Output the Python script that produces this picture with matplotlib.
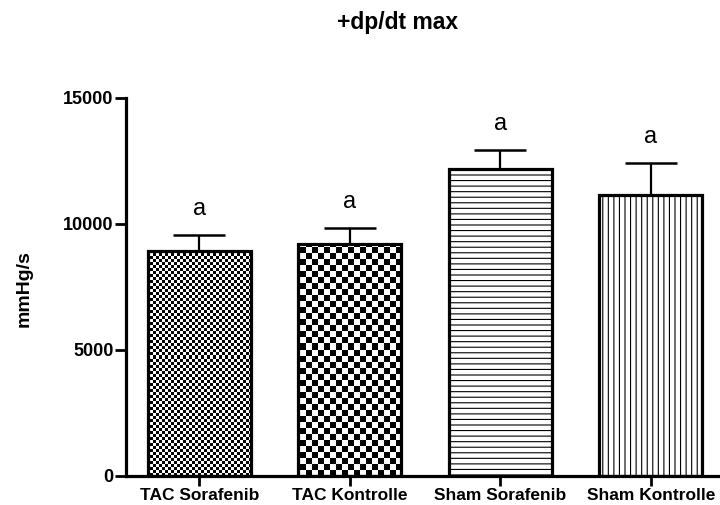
import numpy as np
import matplotlib
matplotlib.use("Agg")
import matplotlib.pyplot as plt

categories = ["TAC Sorafenib", "TAC Kontrolle", "Sham Sorafenib", "Sham Kontrolle"]
means = [8930, 9210, 12180, 11150]
errors = [630, 630, 760, 1270]
letters = ["a", "a", "a", "a"]
yticks = [0, 5000, 10000, 15000]
title = "+dp/dt max"
ylabel = "mmHg/s"

plt.rcParams['font.family'] = ['Liberation Sans', 'DejaVu Sans']
plt.rcParams['hatch.linewidth'] = 0.8

W, H = 720, 505
fig = plt.figure(figsize=(W / 100, H / 100), dpi=100)
ax_left, ax_bottom, ax_w, ax_h = 126, 29, 594, 378
ax = fig.add_axes([ax_left / W, ax_bottom / H, ax_w / W, ax_h / H])

x = np.arange(len(categories))
width = 0.684
xlim = (-0.488, 3.459)
ylim = (0, 15000)

hatches = [None, None, "---", "|||"]
base = ax.bar(x, means, width, color="white", edgecolor="black", linewidth=0,
              zorder=1)
for b, h in zip(base, hatches):
    if h:
        b.set_hatch(h)

# checkerboard fills for the first two bars (cell size in pixels)
cells = [3, 6, None, None]
for b, c in zip(base, cells):
    if c is None:
        continue
    nx = int(np.ceil(ax_w / c))
    ny = int(np.ceil(ax_h / c))
    ii, jj = np.indices((ny, nx))
    board = ((ii + jj) % 2).astype(float)
    x1 = xlim[0] + nx * c / ax_w * (xlim[1] - xlim[0])
    y1 = ylim[0] + ny * c / ax_h * (ylim[1] - ylim[0])
    im = ax.imshow(board, extent=(xlim[0], x1, y1, ylim[0]), cmap="gray",
                   interpolation="nearest", aspect="auto", zorder=2)
    im.set_clip_path(b)

ax.bar(x, means, width, fill=False, edgecolor="black", linewidth=2.3, zorder=3)
ax.errorbar(x, means, yerr=[np.zeros(len(means)), errors], fmt="none",
            ecolor="black", elinewidth=1.6, capsize=18.5, capthick=1.8, zorder=4)

for xi, m, e, t in zip(x, means, errors, letters):
    ax.annotate(t, (xi, m + e), xytext=(0, 19), textcoords="offset points",
                ha="center", va="center", fontsize=17)

ax.set_xlim(*xlim)
ax.set_ylim(*ylim)
ax.set_yticks(yticks)
ax.set_xticks(x)
ax.set_xticklabels(categories, fontsize=12.5, fontweight="bold")
for lab in ax.get_yticklabels():
    lab.set_fontweight("bold")
    lab.set_fontsize(13)
ax.tick_params(axis="y", length=8, width=2, direction="out", pad=1)
ax.tick_params(axis="x", length=7, width=2, direction="out", pad=2)
for s in ["top", "right"]:
    ax.spines[s].set_visible(False)
for s in ["left", "bottom"]:
    ax.spines[s].set_linewidth(2.3)
ax.spines["left"].set_bounds(0, 15000)

ax.set_ylabel(ylabel, fontsize=14, fontweight="bold")
ax.yaxis.set_label_coords((33 - ax_left) / ax_w, ((H - 289) - ax_bottom) / ax_h)
fig.text(398 / W, 1 - 23 / H, title, ha="center", va="center",
         fontsize=16.5, fontweight="bold")

fig.savefig("out.png", dpi=100)
